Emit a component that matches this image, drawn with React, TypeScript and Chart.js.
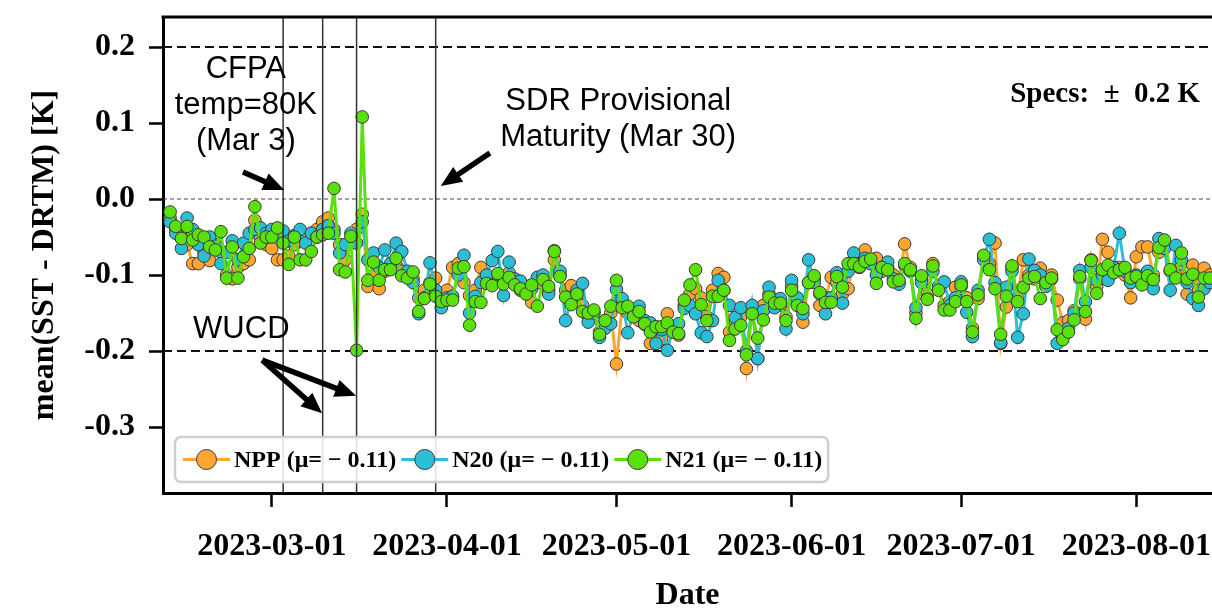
import React, { useEffect, useRef } from 'react';
import { Chart, registerables } from 'chart.js';

Chart.register(...registerables);

// Day-of-year (Jan 1 = 0) of the first sample: 2023-02-11
const START_DOY = 41;

const nppValues = [
  -0.025, -0.040, -0.050, -0.060, -0.085, -0.085, -0.070, -0.081, -0.060, -0.070,
  -0.100, -0.105, -0.090, -0.085, -0.080, -0.028, -0.050, -0.060, -0.065, -0.080,
  -0.080, -0.075, -0.060, -0.055, -0.050, -0.045, -0.040, -0.030, -0.025, -0.040,
  -0.060, -0.080, -0.055, -0.040, -0.020, -0.115, -0.100, -0.118, -0.095, -0.090,
  -0.087, -0.095, -0.100, -0.105, -0.130, -0.120, -0.110, -0.104, -0.125, -0.120,
  -0.090, -0.085, -0.110, -0.127, -0.120, -0.090, -0.105, -0.110, -0.100, -0.105,
  -0.097, -0.110, -0.120, -0.115, -0.136, -0.110, -0.105, -0.120, -0.080, -0.100,
  -0.120, -0.114, -0.130, -0.140, -0.155, -0.150, -0.175, -0.160, -0.150, -0.217,
  -0.140, -0.150, -0.145, -0.160, -0.165, -0.190, -0.170, -0.184, -0.151, -0.170,
  -0.179, -0.140, -0.125, -0.118, -0.130, -0.155, -0.120, -0.098, -0.103, -0.175,
  -0.160, -0.155, -0.223, -0.145, -0.210, -0.140, -0.125, -0.135, -0.140, -0.155,
  -0.115, -0.135, -0.162, -0.110, -0.105, -0.140, -0.130, -0.103, -0.110, -0.125,
  -0.118, -0.080, -0.090, -0.067, -0.085, -0.078, -0.095, -0.090, -0.100, -0.110,
  -0.059, -0.090, -0.150, -0.105, -0.125, -0.085, -0.118, -0.140, -0.135, -0.116,
  -0.115, -0.130, -0.170, -0.131, -0.075, -0.085, -0.058, -0.190, -0.142, -0.090,
  -0.130, -0.080, -0.100, -0.105, -0.091, -0.105, -0.100, -0.133, -0.163, -0.160,
  -0.147, -0.105, -0.158, -0.080, -0.115, -0.053, -0.070, -0.095, -0.090, -0.100,
  -0.130, -0.076, -0.063, -0.063, -0.100, -0.070, -0.060, -0.095, -0.100, -0.085,
  -0.125, -0.087, -0.120, -0.091, -0.100,
];

const n20Values = [
  -0.030, -0.045, -0.065, -0.025, -0.040, -0.060, -0.075, -0.050, -0.062, -0.085,
  -0.070, -0.055, -0.080, -0.058, -0.045, -0.040, -0.038, -0.045, -0.040, -0.048,
  -0.042, -0.055, -0.048, -0.040, -0.058, -0.045, -0.050, -0.040, -0.035, -0.045,
  -0.071, -0.060, -0.045, -0.058, -0.030, -0.080, -0.071, -0.090, -0.067, -0.085,
  -0.058, -0.069, -0.095, -0.110, -0.151, -0.130, -0.084, -0.120, -0.143, -0.130,
  -0.128, -0.100, -0.074, -0.150, -0.128, -0.110, -0.100, -0.081, -0.069, -0.127,
  -0.083, -0.105, -0.108, -0.120, -0.118, -0.103, -0.100, -0.125, -0.068, -0.095,
  -0.160, -0.130, -0.120, -0.111, -0.162, -0.150, -0.182, -0.170, -0.164, -0.119,
  -0.131, -0.176, -0.150, -0.141, -0.160, -0.163, -0.190, -0.172, -0.199, -0.170,
  -0.164, -0.144, -0.140, -0.151, -0.176, -0.181, -0.160, -0.107, -0.120, -0.140,
  -0.156, -0.143, -0.200, -0.140, -0.210, -0.147, -0.116, -0.143, -0.131, -0.171,
  -0.107, -0.130, -0.151, -0.080, -0.110, -0.125, -0.151, -0.130, -0.097, -0.137,
  -0.095, -0.071, -0.085, -0.078, -0.085, -0.100, -0.090, -0.083, -0.105, -0.112,
  -0.087, -0.095, -0.143, -0.110, -0.131, -0.095, -0.115, -0.109, -0.140, -0.130,
  -0.109, -0.149, -0.181, -0.120, -0.080, -0.053, -0.110, -0.189, -0.116, -0.095,
  -0.182, -0.151, -0.079, -0.094, -0.100, -0.115, -0.105, -0.190, -0.181, -0.170,
  -0.150, -0.094, -0.135, -0.090, -0.107, -0.100, -0.107, -0.090, -0.045, -0.095,
  -0.110, -0.100, -0.105, -0.095, -0.118, -0.052, -0.065, -0.120, -0.061, -0.080,
  -0.110, -0.131, -0.140, -0.118, -0.110,
];

const n21Values = [
  -0.017, -0.036, -0.052, -0.036, -0.054, -0.047, -0.050, -0.063, -0.067, -0.043,
  -0.104, -0.063, -0.104, -0.076, -0.065, -0.010, -0.058, -0.050, -0.050, -0.038,
  -0.058, -0.086, -0.050, -0.080, -0.080, -0.069, -0.050, -0.047, -0.045, 0.014,
  -0.093, -0.096, -0.049, -0.199, 0.108, -0.107, -0.083, -0.107, -0.093, -0.093,
  -0.078, -0.101, -0.104, -0.096, -0.148, -0.131, -0.112, -0.128, -0.135, -0.133,
  -0.133, -0.091, -0.089, -0.166, -0.135, -0.136, -0.111, -0.114, -0.098, -0.112,
  -0.103, -0.113, -0.118, -0.125, -0.113, -0.141, -0.106, -0.115, -0.069, -0.102,
  -0.129, -0.139, -0.125, -0.148, -0.150, -0.146, -0.178, -0.160, -0.141, -0.107,
  -0.143, -0.141, -0.155, -0.148, -0.164, -0.175, -0.168, -0.168, -0.163, -0.175,
  -0.177, -0.133, -0.113, -0.093, -0.139, -0.160, -0.128, -0.128, -0.120, -0.186,
  -0.171, -0.166, -0.205, -0.151, -0.183, -0.159, -0.129, -0.137, -0.137, -0.160,
  -0.120, -0.140, -0.144, -0.110, -0.101, -0.123, -0.136, -0.136, -0.102, -0.116,
  -0.085, -0.085, -0.089, -0.082, -0.079, -0.111, -0.090, -0.093, -0.109, -0.107,
  -0.085, -0.093, -0.157, -0.101, -0.132, -0.088, -0.120, -0.146, -0.146, -0.135,
  -0.113, -0.135, -0.175, -0.126, -0.074, -0.093, -0.118, -0.178, -0.128, -0.088,
  -0.135, -0.116, -0.104, -0.102, -0.131, -0.110, -0.104, -0.172, -0.185, -0.175,
  -0.159, -0.102, -0.148, -0.081, -0.124, -0.093, -0.087, -0.097, -0.093, -0.090,
  -0.104, -0.102, -0.113, -0.101, -0.106, -0.064, -0.054, -0.093, -0.104, -0.071,
  -0.105, -0.099, -0.129, -0.104, -0.104,
];

const seriesNames = ['NPP', 'N20', 'N21'];
const seriesMeans = ['0.11', '0.11', '0.11'];
const seriesColors = ['#ffa531', '#2bbfd6', '#5ae10c'];

const xTickDays = [59, 90, 120, 151, 181, 212];
const xTickLabels = ['2023-03-01', '2023-04-01', '2023-05-01', '2023-06-01', '2023-07-01', '2023-08-01'];
const yTickValues = [-0.3, -0.2, -0.1, 0.0, 0.1, 0.2];

// Event markers (day-of-year): CFPA Mar 3, WUCD Mar 10 & Mar 16, SDR Mar 30
const eventDays = [61, 68, 74, 88];
const specLimits = [0.2, -0.2];

const X_MIN = 39.74;
const X_MAX = 225.4;
const Y_MIN = -0.3868;
const Y_MAX = 0.2395;

// Annotation texts in data coordinates
const noteTexts = [
  { lines: ['CFPA', 'temp=80K', '(Mar 3)'], day: 54.4, val: 0.1237 },
  { lines: ['SDR Provisional', 'Maturity (Mar 30)'], day: 120.3, val: 0.105 },
  { lines: ['WUCD'], day: 53.6, val: -0.172 },
];
// Arrows [fromDay, fromVal, toDay, toVal]
const noteArrows = [
  [53.9, 0.0355, 61.2, 0.0118],
  [97.6, 0.0605, 88.9, 0.017],
  [57.3, -0.212, 67.9, -0.282],
  [57.3, -0.212, 73.9, -0.259],
];
const specText = { text: 'Specs:  \u00b1  0.2 K', day: 223.3, val: 0.137 };

const SERIF = '"Liberation Serif", "Times New Roman", serif';
const SANS = '"Liberation Sans", Arial, sans-serif';

function toPoints(values: number[]) {
  return values.map((v, i) => ({ x: START_DOY + i, y: v }));
}

function zeroPadding(scale: any) {
  scale.paddingTop = 0;
  scale.paddingBottom = 0;
  scale.paddingLeft = 0;
  scale.paddingRight = 0;
}

function drawArrow(ctx: CanvasRenderingContext2D, x0: number, y0: number, x1: number, y1: number) {
  const headLen = 21;
  const headW = 18;
  const ang = Math.atan2(y1 - y0, x1 - x0);
  const c = Math.cos(ang);
  const s = Math.sin(ang);
  const bx = x1 - headLen * c;
  const by = y1 - headLen * s;
  ctx.save();
  ctx.strokeStyle = '#000';
  ctx.fillStyle = '#000';
  ctx.lineWidth = 5.5;
  ctx.lineCap = 'butt';
  ctx.beginPath();
  ctx.moveTo(x0, y0);
  ctx.lineTo(bx + 2 * c, by + 2 * s);
  ctx.stroke();
  ctx.beginPath();
  ctx.moveTo(x1, y1);
  ctx.lineTo(bx - (headW / 2) * s, by + (headW / 2) * c);
  ctx.lineTo(bx + (headW / 2) * s, by - (headW / 2) * c);
  ctx.closePath();
  ctx.fill();
  ctx.restore();
}

const refLinesPlugin = {
  id: 'refLines',
  beforeDatasetsDraw(chart: any) {
    const { ctx, chartArea, scales } = chart;
    const y = scales.y;
    ctx.save();
    ctx.beginPath();
    ctx.rect(chartArea.left, chartArea.top, chartArea.right - chartArea.left, chartArea.bottom - chartArea.top);
    ctx.clip();
    specLimits.forEach((v) => {
      const py = y.getPixelForValue(v);
      ctx.strokeStyle = '#111';
      ctx.lineWidth = 2;
      ctx.setLineDash([9, 5]);
      ctx.beginPath();
      ctx.moveTo(chartArea.left, py);
      ctx.lineTo(chartArea.right, py);
      ctx.stroke();
    });
    const pz = y.getPixelForValue(0);
    ctx.strokeStyle = '#444';
    ctx.lineWidth = 1.2;
    ctx.setLineDash([4, 3]);
    ctx.beginPath();
    ctx.moveTo(chartArea.left, pz);
    ctx.lineTo(chartArea.right, pz);
    ctx.stroke();
    ctx.restore();
  },
};

const overlayPlugin = {
  id: 'overlay',
  afterDatasetsDraw(chart: any) {
    const { ctx, chartArea, scales } = chart;
    const xs = scales.x;
    const ys = scales.y;
    ctx.save();
    ctx.strokeStyle = '#333';
    ctx.lineWidth = 1.5;
    eventDays.forEach((d) => {
      const px = xs.getPixelForValue(d);
      ctx.beginPath();
      ctx.moveTo(px, chartArea.top);
      ctx.lineTo(px, chartArea.bottom);
      ctx.stroke();
    });
    ctx.strokeStyle = '#000';
    ctx.lineWidth = 3;
    ctx.beginPath();
    ctx.moveTo(chartArea.left - 1.5, chartArea.top);
    ctx.lineTo(chartArea.right, chartArea.top);
    ctx.stroke();

    ctx.fillStyle = '#000';
    ctx.font = `31px ${SANS}`;
    ctx.textAlign = 'center';
    ctx.textBaseline = 'middle';
    noteTexts.forEach((n) => {
      const cx = xs.getPixelForValue(n.day);
      const cy = ys.getPixelForValue(n.val);
      const lh = 36;
      const y0 = cy - ((n.lines.length - 1) * lh) / 2;
      n.lines.forEach((t, i) => ctx.fillText(t, cx, y0 + i * lh));
    });
    noteArrows.forEach((a) => {
      drawArrow(
        ctx,
        xs.getPixelForValue(a[0]),
        ys.getPixelForValue(a[1]),
        xs.getPixelForValue(a[2]),
        ys.getPixelForValue(a[3])
      );
    });
    ctx.font = `bold 29px ${SERIF}`;
    ctx.textAlign = 'right';
    ctx.fillText(specText.text, xs.getPixelForValue(specText.day), ys.getPixelForValue(specText.val));

    // legend
    ctx.font = `bold 24px ${SERIF}`;
    const boxX = chartArea.left + 12;
    const boxH = 45;
    const boxY = chartArea.bottom - 11 - boxH;
    const cy = boxY + boxH / 2;
    let ix = boxX + 8;
    const items = seriesNames.map((n, i) => ({
      text: `${n} (\u03bc= \u2212 ${seriesMeans[i]})`,
      color: seriesColors[i],
    }));
    const widths = items.map((it) => ctx.measureText(it.text).width);
    const total = widths.reduce((a, b) => a + b, 0) + items.length * 51 + (items.length - 1) * 5 + 14;
    ctx.fillStyle = 'rgba(255,255,255,0.85)';
    ctx.strokeStyle = '#cfcfcf';
    ctx.lineWidth = 2.5;
    ctx.beginPath();
    (ctx as any).roundRect(boxX, boxY, total, boxH, 6);
    ctx.fill();
    ctx.stroke();
    items.forEach((it, i) => {
      ctx.strokeStyle = it.color;
      ctx.lineWidth = 3;
      ctx.beginPath();
      ctx.moveTo(ix, cy);
      ctx.lineTo(ix + 47, cy);
      ctx.stroke();
      ctx.fillStyle = it.color;
      ctx.strokeStyle = '#3a3a3a';
      ctx.lineWidth = 1;
      ctx.beginPath();
      ctx.arc(ix + 23.5, cy, 10, 0, Math.PI * 2);
      ctx.fill();
      ctx.stroke();
      ctx.fillStyle = '#000';
      ctx.textAlign = 'left';
      ctx.textBaseline = 'middle';
      ctx.fillText(it.text, ix + 51, cy + 1);
      ix += 51 + widths[i] + 5;
    });
    ctx.restore();
  },
};

export default function App() {
  const canvasRef = useRef<HTMLCanvasElement | null>(null);

  useEffect(() => {
    const canvas = canvasRef.current;
    if (!canvas) return;
    const allValues = [nppValues, n20Values, n21Values];
    const datasets = seriesNames.map((name, i) => ({
      label: name,
      data: toPoints(allValues[i]),
      borderColor: seriesColors[i],
      backgroundColor: seriesColors[i],
      pointBackgroundColor: seriesColors[i],
      pointBorderColor: '#3a3a3a',
      pointBorderWidth: 1,
      pointRadius: 6.3,
      borderWidth: 3,
      tension: 0,
      order: 3 - i,
    }));

    const chart = new Chart(canvas, {
      type: 'line',
      data: { datasets },
      plugins: [refLinesPlugin, overlayPlugin],
      options: {
        animation: false,
        responsive: false,
        devicePixelRatio: 1,
        layout: { autoPadding: false, padding: { top: 17, right: 0, left: 0, bottom: 0 } },
        plugins: {
          legend: { display: false },
          tooltip: { enabled: false },
          title: { display: false },
        },
        scales: {
          x: {
            type: 'linear',
            min: X_MIN,
            max: X_MAX,
            afterBuildTicks: (scale: any) => {
              scale.ticks = xTickDays.map((v) => ({ value: v }));
            },
            afterFit: (scale: any) => {
              scale.height = 115;
              zeroPadding(scale);
            },
            ticks: {
              autoSkip: false,
              maxRotation: 0,
              minRotation: 0,
              padding: 21,
              color: '#000',
              font: { family: SERIF, size: 32, weight: 'bold' },
              callback: (v: any) => {
                const idx = xTickDays.indexOf(Number(v));
                return idx >= 0 ? xTickLabels[idx] : '';
              },
            },
            grid: {
              display: true,
              drawOnChartArea: false,
              drawTicks: true,
              tickLength: 14,
              tickWidth: 2.5,
              tickColor: '#000',
            },
            border: { display: true, color: '#000', width: 3 },
            title: {
              display: true,
              text: 'Date',
              color: '#000',
              font: { family: SERIF, size: 32, weight: 'bold', lineHeight: 0.75 },
              padding: { top: 0, bottom: 0 },
            },
          },
          y: {
            type: 'linear',
            min: Y_MIN,
            max: Y_MAX,
            afterBuildTicks: (scale: any) => {
              scale.ticks = yTickValues.map((v) => ({ value: v }));
            },
            afterFit: (scale: any) => {
              scale.width = 163;
              zeroPadding(scale);
            },
            ticks: {
              padding: 14,
              color: '#000',
              font: { family: SERIF, size: 32, weight: 'bold' },
              callback: (v: any) => Number(v).toFixed(1),
            },
            grid: {
              display: true,
              drawOnChartArea: false,
              drawTicks: true,
              tickLength: 14,
              tickWidth: 2.5,
              tickColor: '#000',
            },
            border: { display: true, color: '#000', width: 3 },
            title: {
              display: true,
              text: 'mean(SST - DRTM) [K]',
              color: '#000',
              font: { family: SERIF, size: 32, weight: 'bold', lineHeight: 1.2 },
              padding: { top: 26, bottom: 0 },
            },
          },
        },
      } as any,
    });
    return () => chart.destroy();
  }, []);

  return (
    <div style={{ position: 'absolute', left: 0, top: 0, width: 1212, height: 608, background: '#fff' }}>
      <canvas ref={canvasRef} width={1212} height={608} style={{ display: 'block' }} />
    </div>
  );
}
